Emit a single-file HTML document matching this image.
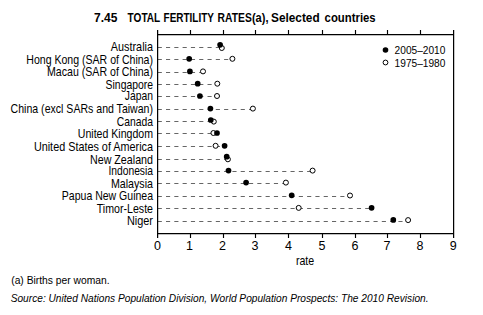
<!DOCTYPE html>
<html><head><meta charset="utf-8"><style>
html,body{margin:0;padding:0;background:#fff;width:483px;height:315px;overflow:hidden}
svg{display:block;font-family:"Liberation Sans", sans-serif;fill:#000}
</style></head><body>
<svg width="483" height="315" viewBox="0 0 483 315">
<line x1="157.7" y1="47.5" x2="221.80" y2="47.5" stroke="#666" stroke-width="1" stroke-dasharray="4.15 4.15"/>
<line x1="157.7" y1="59.5" x2="232.40" y2="59.5" stroke="#666" stroke-width="1" stroke-dasharray="4.15 4.15"/>
<line x1="157.7" y1="72.5" x2="203.00" y2="72.5" stroke="#666" stroke-width="1" stroke-dasharray="4.15 4.15"/>
<line x1="157.7" y1="84.5" x2="217.30" y2="84.5" stroke="#666" stroke-width="1" stroke-dasharray="4.15 4.15"/>
<line x1="157.7" y1="96.5" x2="217.00" y2="96.5" stroke="#666" stroke-width="1" stroke-dasharray="4.15 4.15"/>
<line x1="157.7" y1="109.5" x2="252.90" y2="109.5" stroke="#666" stroke-width="1" stroke-dasharray="4.15 4.15"/>
<line x1="157.7" y1="121.5" x2="213.80" y2="121.5" stroke="#666" stroke-width="1" stroke-dasharray="4.15 4.15"/>
<line x1="157.7" y1="133.5" x2="217.00" y2="133.5" stroke="#666" stroke-width="1" stroke-dasharray="4.15 4.15"/>
<line x1="157.7" y1="146.5" x2="224.60" y2="146.5" stroke="#666" stroke-width="1" stroke-dasharray="4.15 4.15"/>
<line x1="157.7" y1="159.5" x2="227.90" y2="159.5" stroke="#666" stroke-width="1" stroke-dasharray="4.15 4.15"/>
<line x1="157.7" y1="171.5" x2="312.60" y2="171.5" stroke="#666" stroke-width="1" stroke-dasharray="4.15 4.15"/>
<line x1="157.7" y1="183.5" x2="285.90" y2="183.5" stroke="#666" stroke-width="1" stroke-dasharray="4.15 4.15"/>
<line x1="157.7" y1="196.5" x2="350.00" y2="196.5" stroke="#666" stroke-width="1" stroke-dasharray="4.15 4.15"/>
<line x1="157.7" y1="208.5" x2="371.60" y2="208.5" stroke="#666" stroke-width="1" stroke-dasharray="4.15 4.15"/>
<line x1="157.7" y1="221.5" x2="408.10" y2="221.5" stroke="#666" stroke-width="1" stroke-dasharray="4.15 4.15"/>
<line x1="157" y1="34.55" x2="454" y2="34.55" stroke="#000" stroke-width="1.15"/>
<line x1="157" y1="233.55" x2="454" y2="233.55" stroke="#000" stroke-width="1.15"/>
<line x1="157.6" y1="30" x2="157.6" y2="238" stroke="#000" stroke-width="1.25"/>
<line x1="453.6" y1="30" x2="453.6" y2="238" stroke="#000" stroke-width="1.25"/>
<text x="157.5" y="249.8" font-size="12.5" text-anchor="middle">0</text>
<line x1="190.5" y1="30" x2="190.5" y2="34.5" stroke="#000" stroke-width="1.15"/>
<line x1="190.5" y1="233.5" x2="190.5" y2="238" stroke="#000" stroke-width="1.15"/>
<text x="189.5" y="249.8" font-size="12.5" text-anchor="middle">1</text>
<line x1="223.5" y1="30" x2="223.5" y2="34.5" stroke="#000" stroke-width="1.15"/>
<line x1="223.5" y1="233.5" x2="223.5" y2="238" stroke="#000" stroke-width="1.15"/>
<text x="222.5" y="249.8" font-size="12.5" text-anchor="middle">2</text>
<line x1="255.5" y1="30" x2="255.5" y2="34.5" stroke="#000" stroke-width="1.15"/>
<line x1="255.5" y1="233.5" x2="255.5" y2="238" stroke="#000" stroke-width="1.15"/>
<text x="255.0" y="249.8" font-size="12.5" text-anchor="middle">3</text>
<line x1="288.5" y1="30" x2="288.5" y2="34.5" stroke="#000" stroke-width="1.15"/>
<line x1="288.5" y1="233.5" x2="288.5" y2="238" stroke="#000" stroke-width="1.15"/>
<text x="288.5" y="249.8" font-size="12.5" text-anchor="middle">4</text>
<line x1="322.5" y1="30" x2="322.5" y2="34.5" stroke="#000" stroke-width="1.15"/>
<line x1="322.5" y1="233.5" x2="322.5" y2="238" stroke="#000" stroke-width="1.15"/>
<text x="321.9" y="249.8" font-size="12.5" text-anchor="middle">5</text>
<line x1="355.5" y1="30" x2="355.5" y2="34.5" stroke="#000" stroke-width="1.15"/>
<line x1="355.5" y1="233.5" x2="355.5" y2="238" stroke="#000" stroke-width="1.15"/>
<text x="355.0" y="249.8" font-size="12.5" text-anchor="middle">6</text>
<line x1="387.5" y1="30" x2="387.5" y2="34.5" stroke="#000" stroke-width="1.15"/>
<line x1="387.5" y1="233.5" x2="387.5" y2="238" stroke="#000" stroke-width="1.15"/>
<text x="387.0" y="249.8" font-size="12.5" text-anchor="middle">7</text>
<line x1="420.5" y1="30" x2="420.5" y2="34.5" stroke="#000" stroke-width="1.15"/>
<line x1="420.5" y1="233.5" x2="420.5" y2="238" stroke="#000" stroke-width="1.15"/>
<text x="420.0" y="249.8" font-size="12.5" text-anchor="middle">8</text>
<text x="453.2" y="249.8" font-size="12.5" text-anchor="middle">9</text>
<circle cx="221.8" cy="48.0" r="2.5" fill="#fff" stroke="#000" stroke-width="1.0"/>
<circle cx="220.1" cy="44.8" r="2.85" fill="#000"/>
<circle cx="232.4" cy="58.8" r="2.5" fill="#fff" stroke="#000" stroke-width="1.0"/>
<circle cx="189.2" cy="58.8" r="2.85" fill="#000"/>
<circle cx="203" cy="71.4" r="2.5" fill="#fff" stroke="#000" stroke-width="1.0"/>
<circle cx="189.9" cy="71.4" r="2.85" fill="#000"/>
<circle cx="217.3" cy="83.7" r="2.5" fill="#fff" stroke="#000" stroke-width="1.0"/>
<circle cx="197.7" cy="83.7" r="2.85" fill="#000"/>
<circle cx="217" cy="96.0" r="2.5" fill="#fff" stroke="#000" stroke-width="1.0"/>
<circle cx="199.9" cy="96.0" r="2.85" fill="#000"/>
<circle cx="252.9" cy="108.6" r="2.5" fill="#fff" stroke="#000" stroke-width="1.0"/>
<circle cx="210.4" cy="108.6" r="2.85" fill="#000"/>
<circle cx="213.8" cy="121.6" r="2.5" fill="#fff" stroke="#000" stroke-width="1.0"/>
<circle cx="210.8" cy="120" r="2.85" fill="#000"/>
<circle cx="213.4" cy="133.0" r="2.5" fill="#fff" stroke="#000" stroke-width="1.0"/>
<circle cx="217" cy="133.0" r="2.85" fill="#000"/>
<circle cx="215.6" cy="145.8" r="2.5" fill="#fff" stroke="#000" stroke-width="1.0"/>
<circle cx="224.6" cy="145.8" r="2.85" fill="#000"/>
<circle cx="227.9" cy="159.3" r="2.5" fill="#fff" stroke="#000" stroke-width="1.0"/>
<circle cx="226.7" cy="156.7" r="2.85" fill="#000"/>
<circle cx="312.6" cy="170.6" r="2.5" fill="#fff" stroke="#000" stroke-width="1.0"/>
<circle cx="228.5" cy="170.6" r="2.85" fill="#000"/>
<circle cx="285.9" cy="182.6" r="2.5" fill="#fff" stroke="#000" stroke-width="1.0"/>
<circle cx="246.1" cy="182.6" r="2.85" fill="#000"/>
<circle cx="350" cy="195.5" r="2.5" fill="#fff" stroke="#000" stroke-width="1.0"/>
<circle cx="291.7" cy="195.3" r="2.85" fill="#000"/>
<circle cx="298.7" cy="207.9" r="2.5" fill="#fff" stroke="#000" stroke-width="1.0"/>
<circle cx="371.6" cy="207.8" r="2.85" fill="#000"/>
<circle cx="408.1" cy="220.1" r="2.5" fill="#fff" stroke="#000" stroke-width="1.0"/>
<circle cx="393.3" cy="219.9" r="2.85" fill="#000"/>
<text transform="translate(153.0 51.00) scale(0.9041 1)" font-size="12" text-anchor="end">Australia</text>
<text transform="translate(153.0 64.00) scale(0.8801 1)" font-size="12" text-anchor="end">Hong Kong (SAR of China)</text>
<text transform="translate(153.0 76.00) scale(0.8834 1)" font-size="12" text-anchor="end">Macau (SAR of China)</text>
<text transform="translate(153.0 89.00) scale(0.8666 1)" font-size="12" text-anchor="end">Singapore</text>
<text transform="translate(153.0 100.00) scale(0.8620 1)" font-size="12" text-anchor="end">Japan</text>
<text transform="translate(153.0 113.00) scale(0.8805 1)" font-size="12" text-anchor="end">China (excl SARs and Taiwan)</text>
<text transform="translate(153.0 126.00) scale(0.8617 1)" font-size="12" text-anchor="end">Canada</text>
<text transform="translate(153.0 138.00) scale(0.8818 1)" font-size="12" text-anchor="end">United Kingdom</text>
<text transform="translate(153.0 151.00) scale(0.9027 1)" font-size="12" text-anchor="end">United States of America</text>
<text transform="translate(153.0 164.00) scale(0.8925 1)" font-size="12" text-anchor="end">New Zealand</text>
<text transform="translate(153.0 175.00) scale(0.8574 1)" font-size="12" text-anchor="end">Indonesia</text>
<text transform="translate(153.0 188.00) scale(0.8893 1)" font-size="12" text-anchor="end">Malaysia</text>
<text transform="translate(153.0 200.00) scale(0.8775 1)" font-size="12" text-anchor="end">Papua New Guinea</text>
<text transform="translate(153.0 213.00) scale(0.8859 1)" font-size="12" text-anchor="end">Timor-Leste</text>
<text transform="translate(153.0 225.00) scale(0.9100 1)" font-size="12" text-anchor="end">Niger</text>
<circle cx="385.5" cy="50" r="2.8" fill="#000"/>
<circle cx="385.5" cy="62.5" r="2.4" fill="#fff" stroke="#000" stroke-width="1.0"/>
<text transform="translate(394.6 53.8) scale(1.015 1)" font-size="10">2005–2010</text>
<text transform="translate(394.6 67.2) scale(1.015 1)" font-size="10">1975–1980</text>
<text x="94" y="21.8" font-size="12" font-weight="bold">7.45</text>
<text transform="translate(127.6 21.8) scale(0.84 1)" font-size="12" font-weight="bold">TOTAL</text>
<text transform="translate(163.6 21.8) scale(0.83 1)" font-size="12" font-weight="bold">FERTILITY</text>
<text transform="translate(217.6 21.8) scale(0.86 1)" font-size="12" font-weight="bold">RATES</text>
<text transform="translate(251.9 21.8) scale(0.92 1)" font-size="12" font-weight="bold">(a),</text>
<text transform="translate(271.0 21.8) scale(0.985 1)" font-size="12" font-weight="bold">Selected</text>
<text transform="translate(324.6 21.8) scale(0.946 1)" font-size="12" font-weight="bold">countries</text>
<text transform="translate(295.9 264.8) scale(0.885 1)" font-size="12">rate</text>
<text transform="translate(11.2 283.9) scale(1.03 1)" font-size="10">(a) Births per woman.</text>
<text transform="translate(10.7 301.6) scale(1.016 1)" font-size="10" font-style="italic">Source: United Nations Population Division, World Population Prospects: The 2010 Revision.</text>
</svg></body></html>
